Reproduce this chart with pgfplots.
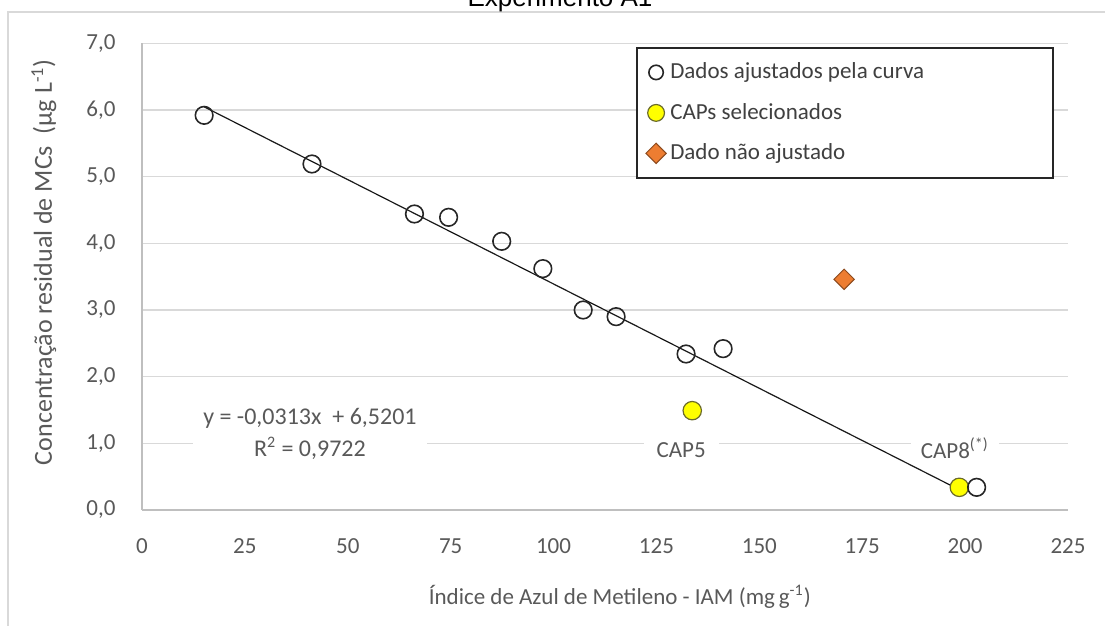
\documentclass[border=0pt]{standalone}
\usepackage{pgfplots}
\pgfplotsset{compat=1.18}
\usepackage{fontspec}
\setmainfont{Carlito}
\newfontfamily\arialfont{Liberation Sans}
\definecolor{gridc}{HTML}{D9D9D9}
\definecolor{txt}{HTML}{595959}
\definecolor{legtxt}{HTML}{404040}
\definecolor{axisc}{HTML}{BFBFBF}
\definecolor{capyellow}{HTML}{FFFF00}
\definecolor{capedge}{HTML}{6B6B2A}
\definecolor{orangefill}{HTML}{ED7D31}
\definecolor{orangeedge}{HTML}{8C4A1E}
\begin{document}
\begin{tikzpicture}
\useasboundingbox (-71pt,-58pt) rectangle (481.5pt,255pt);
\draw[gridc, line width=0.6pt] (-67pt,-60pt) -- (-67pt,249pt) -- (485pt,249pt);
\begin{axis}[
  at={(0,0)}, anchor=south west,
  scale only axis, width=463pt, height=233.35pt,
  xmin=0, xmax=225, ymin=0, ymax=7,
  xtick={0,25,...,225}, ytick={0,1,...,7},
  axis lines=left,
  axis line style={-, draw=axisc, line width=0.75pt},
  ymajorgrids, grid style={draw=gridc, line width=0.75pt},
  major tick length=0pt,
  tick style={draw=none},
  ticklabel style={font=\fontsize{11.5}{13}\selectfont, text=txt},
  /pgf/number format/assume math mode=true,
  yticklabel style={/pgf/number format/fixed, /pgf/number format/fixed zerofill, /pgf/number format/precision=1, /pgf/number format/use comma, xshift=-9.7pt},
  xticklabel style={yshift=-11pt},
  xlabel={Índice de Azul de Metileno - IAM (mg\,g\textsuperscript{-1})},
  ylabel={Concentração residual de MCs\ \ (µg L\textsuperscript{-1})},
  xlabel style={at={(axis description cs:0.516,-0.186)}, anchor=center, font=\fontsize{11.5}{13}\selectfont, text=txt},
  ylabel style={at={(axis description cs:-0.106,0.531)}, anchor=center, font=\fontsize{13}{15}\selectfont, text=txt},
  legend style={at={(rel axis cs:0.5335,0.992)}, anchor=north west, draw=black!85, line width=0.9pt, fill=white,
    font=\fontsize{11.5}{13}\selectfont, text=legtxt, inner xsep=4.5pt, inner ysep=5.5pt, row sep=6.75pt,
    /tikz/every even column/.append style={column sep=3.5pt}},
  legend cell align=left,
  legend image code/.code={\draw[mark repeat=2,mark phase=2,#1] plot coordinates {(0pt,0pt) (5pt,0pt) (10pt,0pt)};},
]
% selected CAPs
\addplot[only marks, mark=*, mark size=4.6pt, mark options={fill=capyellow, draw=capedge, line width=0.6pt}, forget plot]
  coordinates {(133.7,1.49) (198.6,0.34)};
% data fitted by the curve
\addplot[only marks, mark=o, mark size=4.4pt, mark options={draw=black!85, line width=0.8pt}, forget plot]
  coordinates {(15.1,5.92) (41.3,5.19) (66.2,4.44) (74.5,4.39) (87.4,4.03) (97.4,3.62)
               (107.2,3.00) (115.2,2.90) (132.2,2.34) (141.2,2.42) (202.8,0.34)};
% not fitted
\addplot[only marks, mark=square*, mark size=3.6pt, mark options={rotate=45, fill=orangefill, draw=orangeedge, line width=0.5pt}, forget plot]
  coordinates {(170.6,3.46)};
% linear trendline
\addplot[black!90, line width=0.6pt, forget plot] coordinates {(15.1,6.0475) (200,0.2601)};

\addlegendimage{only marks, mark=o, mark size=3.6pt, mark options={draw=black!85, line width=0.8pt}}
\addlegendentry{\makebox[185pt][l]{Dados ajustados pela curva}}
\addlegendimage{only marks, mark=*, mark size=4.2pt, mark options={fill=capyellow, draw=capedge, line width=0.6pt}}
\addlegendentry{CAPs selecionados}
\addlegendimage{only marks, mark=square*, mark size=3.6pt, mark options={rotate=45, fill=orangefill, draw=orangeedge, line width=0.5pt}}
\addlegendentry{Dado não ajustado}

\node[fill=white, inner xsep=5pt, inner ysep=1pt, align=center, text=txt, font=\fontsize{12}{16}\selectfont]
  at (axis cs:40.8,1.14) {y = -0,0313x\ \ + 6,5201\\R\textsuperscript{2} = 0,9722};
\node[fill=white, inner xsep=6.5pt, inner ysep=1pt, text=txt, font=\fontsize{11.5}{13}\selectfont]
  at (axis cs:131,0.9) {CAP5};
\node[fill=white, inner xsep=5pt, inner ysep=1pt, text=txt, font=\fontsize{11.5}{13}\selectfont]
  at (axis cs:197.5,0.93) {CAP8\textsuperscript{(*)}};
\end{axis}
\node[font=\arialfont\fontsize{13}{15}\selectfont, anchor=base] at (209pt,251.5pt) {Experimento A1};
\end{tikzpicture}
\end{document}
